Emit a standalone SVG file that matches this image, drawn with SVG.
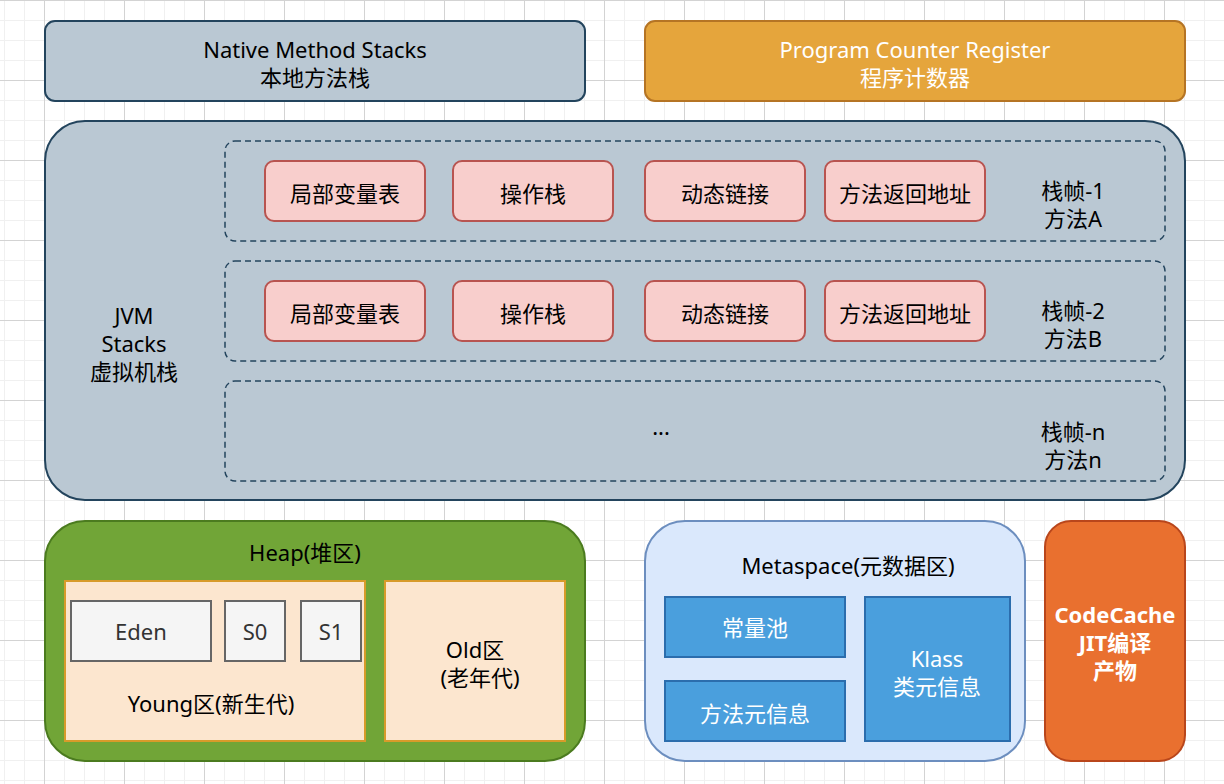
<svg xmlns="http://www.w3.org/2000/svg" width="1224" height="784" viewBox="0 0 1224 784">
  <defs>
    <pattern id="grid" patternUnits="userSpaceOnUse" x="4" y="0" width="80" height="80">
      <rect width="80" height="80" fill="#ffffff"/>
      <rect x="0" y="0" width="1" height="80" fill="#f0f0f0"/>
      <rect x="20" y="0" width="1" height="80" fill="#f0f0f0"/>
      <rect x="60" y="0" width="1" height="80" fill="#f0f0f0"/>
      <rect x="0" y="20" width="80" height="1" fill="#f0f0f0"/>
      <rect x="0" y="40" width="80" height="1" fill="#f0f0f0"/>
      <rect x="0" y="60" width="80" height="1" fill="#f0f0f0"/>
      <rect x="40" y="0" width="1" height="80" fill="#d3d3d3"/>
      <rect x="0" y="0" width="80" height="1" fill="#d3d3d3"/>
    </pattern>
  </defs>
  <style>
    text { font-family: "Noto Sans", "Noto Sans CJK SC", sans-serif; font-size: 22px; fill: #000000; text-anchor: middle; dominant-baseline: central; }
    .white { fill: #ffffff; }
    .grey { fill: #333333; }
    .bold { font-weight: bold; }
    .slate { fill: #bac8d3; stroke: #23445d; stroke-width: 2; }
    .frame { fill: none; stroke: #23445d; stroke-width: 1.5; stroke-dasharray: 6 4; }
    .pink { fill: #f8cecc; stroke: #b85450; stroke-width: 2; }
    .peach { fill: #fce6cf; stroke: #d79b2a; stroke-width: 2; }
    .light { fill: #f5f5f5; stroke: #666666; stroke-width: 2; }
    .blue { fill: #4a9fdd; stroke: #2b6dad; stroke-width: 2; }
  </style>
  <rect width="1224" height="784" fill="url(#grid)"/>

  <g id="native-method-stacks">
    <rect class="slate" x="45" y="21" width="540" height="80" rx="10"/>
    <text x="315" y="49">Native Method Stacks</text>
    <text x="315" y="77">本地方法栈</text>
  </g>

  <g id="program-counter-register">
    <rect x="645" y="21" width="540" height="80" rx="10" fill="#e5a53c" stroke="#b57424" stroke-width="2"/>
    <text class="white" x="915" y="49">Program Counter Register</text>
    <text class="white" x="915" y="77">程序计数器</text>
  </g>

  <g id="jvm-stacks">
    <rect class="slate" x="45" y="121" width="1140" height="379" rx="40"/>
    <text x="134" y="315">JVM</text>
    <text x="134" y="343">Stacks</text>
    <text x="134" y="371">虚拟机栈</text>
  </g>

  <g id="frame-1">
    <rect class="frame" x="225" y="141" width="940" height="100" rx="10"/>
    <text x="1073" y="190">栈帧-1</text>
    <text x="1073" y="218">方法A</text>
  </g>
  <g id="frame-1-local-vars">
    <rect class="pink" x="265" y="161" width="160" height="60" rx="9"/>
    <text x="345" y="193">局部变量表</text>
  </g>
  <g id="frame-1-operand-stack">
    <rect class="pink" x="453" y="161" width="160" height="60" rx="9"/>
    <text x="533" y="193">操作栈</text>
  </g>
  <g id="frame-1-dynamic-link">
    <rect class="pink" x="645" y="161" width="160" height="60" rx="9"/>
    <text x="725" y="193">动态链接</text>
  </g>
  <g id="frame-1-return-address">
    <rect class="pink" x="825" y="161" width="160" height="60" rx="9"/>
    <text x="905" y="193">方法返回地址</text>
  </g>

  <g id="frame-2">
    <rect class="frame" x="225" y="261" width="940" height="100" rx="10"/>
    <text x="1073" y="310">栈帧-2</text>
    <text x="1073" y="338">方法B</text>
  </g>
  <g id="frame-2-local-vars">
    <rect class="pink" x="265" y="281" width="160" height="60" rx="9"/>
    <text x="345" y="313">局部变量表</text>
  </g>
  <g id="frame-2-operand-stack">
    <rect class="pink" x="453" y="281" width="160" height="60" rx="9"/>
    <text x="533" y="313">操作栈</text>
  </g>
  <g id="frame-2-dynamic-link">
    <rect class="pink" x="645" y="281" width="160" height="60" rx="9"/>
    <text x="725" y="313">动态链接</text>
  </g>
  <g id="frame-2-return-address">
    <rect class="pink" x="825" y="281" width="160" height="60" rx="9"/>
    <text x="905" y="313">方法返回地址</text>
  </g>

  <g id="frame-n">
    <rect class="frame" x="225" y="381" width="940" height="100" rx="10"/>
    <text x="661" y="426">...</text>
    <text x="1073" y="431">栈帧-n</text>
    <text x="1073" y="459">方法n</text>
  </g>

  <g id="heap">
    <rect x="45" y="521" width="540" height="240" rx="40" fill="#71a537" stroke="#4b7b1f" stroke-width="2"/>
    <text x="305" y="552">Heap(堆区)</text>
  </g>
  <g id="young">
    <rect class="peach" x="65" y="581" width="300" height="160"/>
    <text x="211" y="703">Young区(新生代)</text>
  </g>
  <g id="eden">
    <rect class="light" x="71" y="601" width="140" height="60"/>
    <text class="grey" x="141" y="631">Eden</text>
  </g>
  <g id="s0">
    <rect class="light" x="225" y="601" width="60" height="60"/>
    <text class="grey" x="255" y="631">S0</text>
  </g>
  <g id="s1">
    <rect class="light" x="301" y="601" width="60" height="60"/>
    <text class="grey" x="331" y="631">S1</text>
  </g>
  <g id="old">
    <rect class="peach" x="385" y="581" width="180" height="160"/>
    <text x="475" y="649">Old区</text>
    <text x="480" y="677">(老年代)</text>
  </g>

  <g id="metaspace">
    <rect x="645" y="521" width="380" height="240" rx="40" fill="#dae8fc" stroke="#6c8ebf" stroke-width="2"/>
    <text x="848" y="565">Metaspace(元数据区)</text>
  </g>
  <g id="constant-pool">
    <rect class="blue" x="665" y="597" width="180" height="60"/>
    <text class="white" x="755" y="627">常量池</text>
  </g>
  <g id="method-meta">
    <rect class="blue" x="665" y="681" width="180" height="60"/>
    <text class="white" x="755" y="713">方法元信息</text>
  </g>
  <g id="klass">
    <rect class="blue" x="865" y="597" width="145" height="144"/>
    <text class="white" x="937" y="658">Klass</text>
    <text class="white" x="937" y="686">类元信息</text>
  </g>

  <g id="codecache">
    <rect x="1045" y="521" width="140" height="240" rx="26" fill="#e9702f" stroke="#b9461b" stroke-width="2"/>
    <text class="white bold" x="1115" y="614">CodeCache</text>
    <text class="white bold" x="1115" y="642">JIT编译</text>
    <text class="white bold" x="1115" y="670">产物</text>
  </g>

  <g id="connectors"/>
</svg>
